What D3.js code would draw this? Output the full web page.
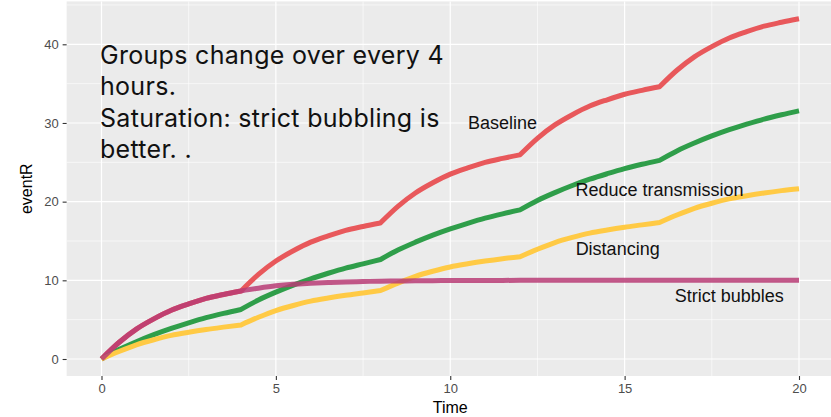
<!DOCTYPE html>
<html>
<head>
<meta charset="utf-8">
<script src="https://cdn.jsdelivr.net/npm/d3@7"></script>
<style>
html,body{margin:0;padding:0;background:#fff;}
svg{display:block;}
</style>
</head>
<body>
<svg id="chart" width="831" height="417"></svg>
<script>
// ---- data ----
const time = [0,0.5,1,1.5,2,2.5,3,3.5,4,4.5,5,5.5,6,6.5,7,7.5,8,8.5,9,9.5,10,10.5,11,11.5,12,12.5,13,13.5,14,14.5,15,15.5,16,16.5,17,17.5,18,18.5,19,19.5,20];
const baseline = [0,2.1,3.8,5.1,6.2,7.0,7.7,8.2,8.65,10.75,12.45,13.75,14.85,15.65,16.35,16.85,17.3,19.4,21.1,22.4,23.5,24.3,25.0,25.5,25.95,28.05,29.75,31.05,32.15,32.95,33.65,34.15,34.6,36.7,38.4,39.7,40.8,41.6,42.3,42.8,43.25];
const reduceTransmission = [0,1.2,2.2,3.1,3.9,4.6,5.25,5.8,6.3,7.5,8.5,9.4,10.2,10.9,11.55,12.1,12.65,13.85,14.85,15.75,16.55,17.25,17.9,18.45,18.95,20.15,21.15,22.05,22.85,23.55,24.2,24.75,25.25,26.45,27.45,28.35,29.15,29.85,30.5,31.05,31.55];
const distancing = [0,0.95,1.8,2.45,3.0,3.4,3.75,4.05,4.33,5.3,6.15,6.8,7.35,7.75,8.1,8.4,8.7,9.65,10.5,11.15,11.7,12.1,12.45,12.75,13.0,13.95,14.8,15.45,16.0,16.4,16.75,17.05,17.35,18.3,19.15,19.8,20.35,20.75,21.1,21.4,21.65];
const strictBubbles = [0,2.1,3.8,5.1,6.2,7.0,7.7,8.2,8.65,9.0,9.3,9.5,9.62,9.72,9.8,9.85,9.89,9.92,9.94,9.96,9.97,9.98,9.99,9.99,10,10,10,10,10,10,10,10,10,10,10,10,10,10,10,10,10];

const seriesNames = ["Baseline","Reduce transmission","Distancing","Strict bubbles"];
const seriesValues = [baseline, reduceTransmission, distancing, strictBubbles];
const seriesColors = ["#E8585B","#2F9E4A","#FFCA45","#B83C76"];
const seriesOpacity = [1,1,1,0.85];

const labelX = [11.5, 16, 14.8, 18];
const labelY = [30, 21.5, 14, 8];

const groupChangeTimes = [0,4,8,12,16,20];

const xTicks = [0,5,10,15,20];
const xMinor = [2.5,7.5,12.5,17.5];
const yTicks = [0,10,20,30,40];
const yMinor = [5,15,25,35,45];

const noteLines = ["Groups change over every 4","hours.","Saturation: strict bubbling is","better. ."];

// ---- scales ----
const svg = d3.select("#chart");
const x = d3.scaleLinear().domain([0,20]).range([101.5, 799]);
const y = d3.scaleLinear().domain([0,40]).range([359, 44.3]);
const xDom = [-1, 21];
const yDom = [-2.16, 45.45];
const px0 = x(xDom[0]), px1 = x(xDom[1]);
const py0 = y(yDom[1]), py1 = y(yDom[0]);

// panel
svg.append("rect").attr("x",px0).attr("y",py0).attr("width",px1-px0).attr("height",py1-py0).attr("fill","#EBEBEB");

const grid = svg.append("g");
xMinor.forEach(v=>grid.append("line").attr("x1",x(v)).attr("x2",x(v)).attr("y1",py0).attr("y2",py1).attr("stroke","#fff").attr("stroke-width",0.6));
yMinor.forEach(v=>grid.append("line").attr("y1",y(v)).attr("y2",y(v)).attr("x1",px0).attr("x2",px1).attr("stroke","#fff").attr("stroke-width",0.6));
xTicks.forEach(v=>grid.append("line").attr("x1",x(v)).attr("x2",x(v)).attr("y1",py0).attr("y2",py1).attr("stroke","#fff").attr("stroke-width",1.2));
yTicks.forEach(v=>grid.append("line").attr("y1",y(v)).attr("y2",y(v)).attr("x1",px0).attr("x2",px1).attr("stroke","#fff").attr("stroke-width",1.2));

// axes
const xAxis = d3.axisBottom(x).tickValues(xTicks).tickSize(4).tickPadding(4);
const gx = svg.append("g").attr("transform",`translate(0,${py1})`).call(xAxis);
const yAxis = d3.axisLeft(y).tickValues(yTicks).tickSize(4).tickPadding(4);
const gy = svg.append("g").attr("transform",`translate(${px0},0)`).call(yAxis);
[gx,gy].forEach(g=>{
  g.select(".domain").remove();
  g.selectAll(".tick line").attr("stroke","#333").attr("stroke-width",1.1);
  g.selectAll(".tick text").attr("fill","#4D4D4D").style("font-family","'Liberation Sans', Arial, sans-serif").style("font-size","13px");
});

svg.append("text").attr("x",(px0+px1)/2).attr("y",413).attr("text-anchor","middle")
  .style("font-family","'Liberation Sans', Arial, sans-serif").style("font-size","16px").attr("fill","#000").text("Time");
svg.append("text").attr("transform",`translate(32,${(py0+py1)/2}) rotate(-90)`).attr("text-anchor","middle")
  .style("font-family","'Liberation Sans', Arial, sans-serif").style("font-size","16px").attr("fill","#000").text("eventR");

// lines: smooth within each 4-hour group period, sharp kink at each change
const segLine = d3.line().x(d=>x(d[0])).y(d=>y(d[1])).curve(d3.curveMonotoneX);
function pathFor(vals){
  let d = "";
  for(let s=0;s<groupChangeTimes.length-1;s++){
    const pts = [];
    time.forEach((t,i)=>{ if(t>=groupChangeTimes[s] && t<=groupChangeTimes[s+1]) pts.push([t,vals[i]]); });
    let p = segLine(pts);
    if(s>0){ p = p.replace(/^M[^CL]*/, ""); }
    d += p;
  }
  return d;
}
seriesValues.forEach((vals,k)=>{
  svg.append("path").attr("d",pathFor(vals)).attr("fill","none")
    .attr("stroke",seriesColors[k]).attr("stroke-width",5).attr("stroke-opacity",seriesOpacity[k])
    .attr("stroke-linejoin","round").attr("stroke-linecap","butt");
});

// labels
seriesNames.forEach((n,k)=>{
  svg.append("text").attr("x",x(labelX[k])).attr("y",y(labelY[k])).attr("text-anchor","middle")
    .attr("dominant-baseline","central")
    .style("font-family","'Liberation Sans', Arial, sans-serif").style("font-size","18px").attr("fill","#111").text(n);
});

// note
const note = svg.append("text").style("font-family","Inter, sans-serif").style("font-size","25px")
  .style("letter-spacing","0.3px").style("font-variant-ligatures","none").attr("fill","#111");
noteLines.forEach((t,i)=>{
  note.append("tspan").attr("x",x(0)-1.5).attr("y",64+i*31.4).text(t);
});
</script>
</body>
</html>
